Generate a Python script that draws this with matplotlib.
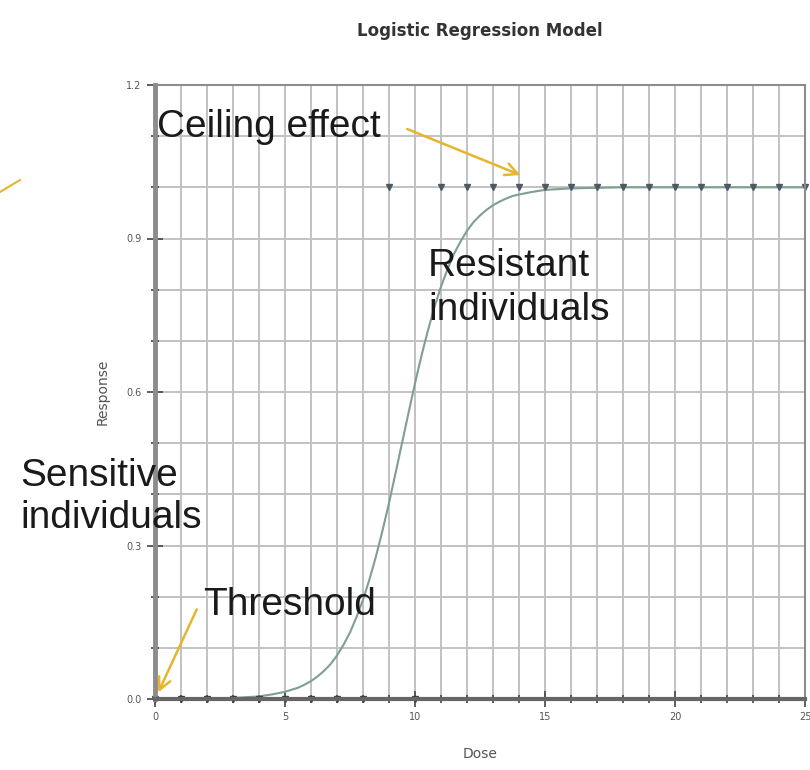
# Logistic Regression Model - dose/response
import matplotlib.pyplot as plt
from matplotlib.ticker import MultipleLocator
from matplotlib.lines import Line2D

# observed points (0 = no response, 1 = response)
dose_zero = [0, 1, 2, 3, 4, 5, 6, 7, 8, 10]
resp_zero = [0, 0, 0, 0, 0, 0, 0, 0, 0, 0]
dose_one = [9, 11, 12, 13, 14, 15, 16, 17, 18, 19, 20, 21, 22, 23, 24, 25]
resp_one = [1, 1, 1, 1, 1, 1, 1, 1, 1, 1, 1, 1, 1, 1, 1, 1]

# fitted curve
curve_x = [0, 2, 3, 4, 4.5, 5, 5.5, 5.75, 6, 6.25, 6.5, 6.75, 7, 7.25, 7.5,
           7.75, 8, 8.25, 8.5, 8.75, 9, 9.25, 9.5, 9.75, 10, 10.25, 10.5,
           10.75, 11, 11.25, 11.5, 11.75, 12, 12.25, 12.5, 12.75, 13, 13.25,
           13.5, 13.75, 14, 14.5, 15, 16, 18, 25]
curve_y = [0.0, 0.0005, 0.002, 0.005, 0.009, 0.014, 0.022, 0.028, 0.035,
           0.044, 0.055, 0.068, 0.085, 0.106, 0.13, 0.16, 0.194, 0.234, 0.279,
           0.329, 0.383, 0.441, 0.5, 0.559, 0.617, 0.671, 0.721, 0.766, 0.806,
           0.84, 0.87, 0.894, 0.915, 0.932, 0.945, 0.956, 0.965, 0.972, 0.978,
           0.983, 0.986, 0.991, 0.995, 0.998, 1.0, 1.0]

W, H = 810, 770
fig = plt.figure(figsize=(W / 100, H / 100), dpi=100)
ax = fig.add_axes([155 / W, 1 - 699 / H, 650 / W, 614 / H])

ax.set_xlim(0, 25)
ax.set_ylim(0, 1.2)
ax.xaxis.set_major_locator(MultipleLocator(5))
ax.xaxis.set_minor_locator(MultipleLocator(1))
ax.yaxis.set_major_locator(MultipleLocator(0.3))
ax.yaxis.set_minor_locator(MultipleLocator(0.1))
ax.yaxis.set_major_formatter(plt.FuncFormatter(lambda v, p: '%.1f' % v))

ax.grid(which='both', color='#c2c2c2', linewidth=1.4)
ax.set_axisbelow(True)
ax.tick_params(which='both', direction='inout', colors='#444444', labelsize=7,
               labelcolor='#555555')
ax.tick_params(which='major', length=12, width=1.2)
ax.tick_params(which='minor', length=6, width=1.2)
for s in ax.spines.values():
    s.set_color('#8c8c8c')
    s.set_linewidth(1.5)
ax.spines['left'].set_linewidth(3.5)
ax.spines['bottom'].set_linewidth(3)
ax.spines['bottom'].set_color('#666666')

ax.plot(curve_x, curve_y, color='#7f9f90', linewidth=1.5, clip_on=False)
ax.plot(dose_zero, resp_zero, 'v', color='#33404d', markersize=4, clip_on=False)
ax.plot(dose_one, resp_one, 'v', color='#4d5a66', markersize=4, clip_on=False)

ax.set_title('Logistic Regression Model', fontsize=12, fontweight='bold',
             color='#333333', pad=35)
ax.set_xlabel('Dose', fontsize=10, color='#555555', labelpad=18)
ax.set_ylabel('Response', fontsize=10, color='#555555', labelpad=12)

# annotations
gold = '#e6b42d'
big = dict(fontsize=28, family='Liberation Sans', color='#1a1a1a')
ax.annotate('', xy=(14.15, 1.022), xytext=(9.6, 1.116),
            arrowprops=dict(arrowstyle='->', color=gold, lw=1.8,
                            mutation_scale=22))
ax.annotate('', xy=(0.08, 0.008), xytext=(1.65, 0.18),
            arrowprops=dict(arrowstyle='->', color=gold, lw=1.8,
                            mutation_scale=22), annotation_clip=False)
fig.text(157 / W, 1 - 127 / H, 'Ceiling effect', va='center', **big)
fig.text(428 / W, 1 - 288 / H, 'Resistant\nindividuals', va='center',
         linespacing=1.25, **big)
fig.text(20 / W, 1 - 497 / H, 'Sensitive\nindividuals', va='center',
         linespacing=1.25, **big)
fig.text(203 / W, 1 - 605 / H, 'Threshold', va='center', **big)
fig.add_artist(Line2D([0, 20 / W], [1 - 192 / H, 1 - 180 / H], color=gold,
                      lw=1.5, transform=fig.transFigure))

plt.savefig('out.png', dpi=100)
